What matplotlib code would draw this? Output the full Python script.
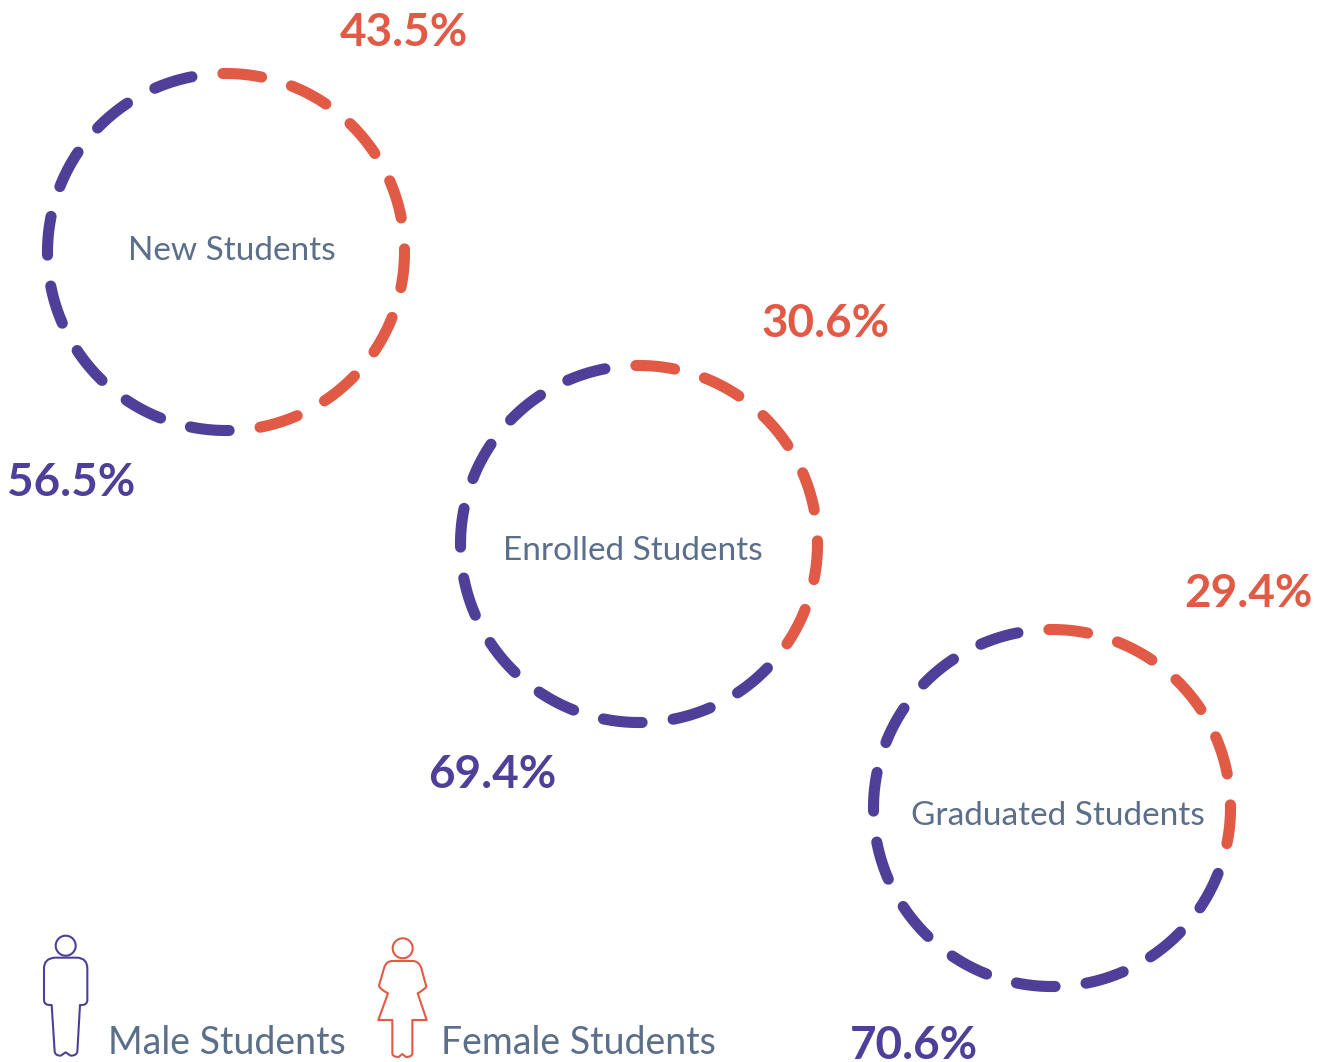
import numpy as np
import matplotlib
matplotlib.use('Agg')
import matplotlib.pyplot as plt
from matplotlib.path import Path
from matplotlib.patches import PathPatch, Circle

# chart values
groups = ['New Students', 'Enrolled Students', 'Graduated Students']
male_share = [56.5, 69.4, 70.6]
female_share = [43.5, 30.6, 29.4]
# each ring has 16 dashes, this many of them are orange
female_dashes = [8, 6, 5]
legend_labels = ['Male Students', 'Female Students']

purple = '#4f3f98'
orange = '#e05a45'
slate = '#5b6f8a'

Ndash = 16
radius = 178.5
centers = [(226, 252), (639, 544), (1052, 808)]
group_pos = [(232, 251), (633, 551), (1058, 816)]
female_pos = [(404, 33), (826, 324), (1248, 594)]
male_pos = [(71, 483), (492, 775), (914, 1046)]

fig = plt.figure(figsize=(13.26, 10.62), dpi=100)
ax = fig.add_axes([0, 0, 1, 1])
ax.set_xlim(0, 1326)
ax.set_ylim(1062, 0)
ax.axis('off')


def ring(cx, cy, n_orange):
    # angles are clockwise from 12 o'clock, orange starts at the top
    for i in range(Ndash):
        a = np.radians(np.linspace(-1.0, 11.5, 30) + i*360./Ndash)
        col = orange if i < n_orange else purple
        ax.plot(cx + radius*np.sin(a), cy - radius*np.cos(a), color=col,
                lw=8.0, solid_capstyle='round')


for c, n in zip(centers, female_dashes):
    ring(c[0], c[1], n)

for i in range(len(groups)):
    ax.text(group_pos[i][0], group_pos[i][1], groups[i], color=slate, family='Lato',
            fontsize=24, ha='center', va='center')
    ax.text(female_pos[i][0], female_pos[i][1], '{0}%'.format(female_share[i]), color=orange,
            family='Lato', weight='bold', fontsize=33, ha='center', va='center')
    ax.text(male_pos[i][0], male_pos[i][1], '{0}%'.format(male_share[i]), color=purple,
            family='Lato', weight='bold', fontsize=33, ha='center', va='center')


def icon(pts, col):
    # pts are (x, y) outline points, smoothed by quadratic corners
    verts = [pts[0][:2]]
    codes = [Path.MOVETO]
    for p in pts[1:]:
        verts.append(p[:2])
        codes.append(Path.CURVE3 if len(p) == 3 else Path.LINETO)
    verts.append(pts[0][:2])
    codes.append(Path.CLOSEPOLY)
    ax.add_patch(PathPatch(Path(verts, codes), fc='none', ec=col, lw=1.5, joinstyle='round'))


def zoomed(pts):
    # outline was traced on a 3x crop starting at y=920
    out = []
    for p in pts:
        out.append((p[0]/3., 920 + p[1]/3.) + tuple(p[2:]))
    return out


male_outline = [(165, 113), (232, 113), (262, 115, 1), (262, 145), (262, 240), (262, 257, 1), (240, 255),
                (232, 395), (230, 407, 1), (212, 407), (197, 397), (182, 407), (166, 407, 1), (164, 395),
                (155, 255), (132, 257, 1), (132, 240), (132, 145), (132, 115, 1), (165, 113)]
female_outline = [(1175, 123), (1240, 123), (1258, 125, 1), (1264, 145), (1279, 200), (1276, 207, 1), (1253, 220),
                  (1280, 300), (1237, 300), (1237, 400), (1236, 411, 1), (1218, 411), (1207, 402), (1196, 411),
                  (1178, 411, 1), (1177, 400), (1177, 300), (1135, 300), (1164, 220), (1139, 207, 1), (1137, 197),
                  (1152, 145), (1157, 125, 1), (1175, 123)]
icon(zoomed(male_outline), purple)
icon(zoomed(female_outline), orange)
ax.add_patch(Circle((65.7, 945.7), 10, fc='none', ec=purple, lw=1.5))
ax.add_patch(Circle((402.7, 948.3), 10, fc='none', ec=orange, lw=1.5))

ax.text(227, 1043, legend_labels[0], color=slate, family='Lato', fontsize=27, ha='center', va='center')
ax.text(578, 1043, legend_labels[1], color=slate, family='Lato', fontsize=27, ha='center', va='center')

fig.savefig('out.png', dpi=100)
